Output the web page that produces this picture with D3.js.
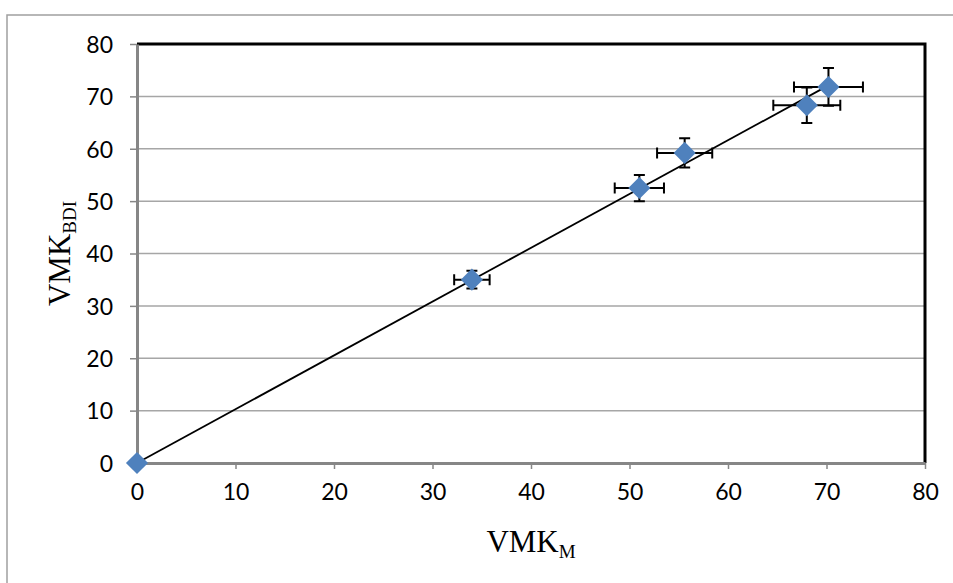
<!DOCTYPE html>
<html>
<head>
<meta charset="utf-8">
<script src="https://cdn.jsdelivr.net/npm/d3@7"></script>
<style>
  body { margin: 0; background: #fff; }
  svg { display: block; }
  .tick text { font-family: Lato, "Open Sans", sans-serif; font-size: 23px; fill: #000; }
</style>
</head>
<body>
<script>
/* Data */
const vmkM   = [0, 34.0, 51.0, 55.6, 68.0, 70.2];
const vmkBDI = [0, 35.0, 52.5, 59.2, 68.3, 71.8];
const errX   = [0, 1.8, 2.5, 2.8, 3.4, 3.5];
const errY   = [0, 1.7, 2.5, 2.8, 3.4, 3.6];
const xTicks = [0, 10, 20, 30, 40, 50, 60, 70, 80];
const yTicks = [0, 10, 20, 30, 40, 50, 60, 70, 80];

/* Constants */
const W = 953, H = 583;
const MARGIN = { top: 44, right: 28, bottom: 120, left: 137 };
const PW = W - MARGIN.left - MARGIN.right;
const PH = H - MARGIN.top - MARGIN.bottom;

const data = vmkM.map((d, i) => ({ x: d, y: vmkBDI[i], ex: errX[i], ey: errY[i] }));

const svg = d3.select("body").append("svg")
  .attr("width", W)
  .attr("height", H);

/* Outer frame */
svg.append("rect")
  .attr("x", 7).attr("y", 15)
  .attr("width", 970).attr("height", 620)
  .attr("fill", "none")
  .attr("stroke", "#a0a0a0")
  .attr("stroke-width", 1.5);

const g = svg.append("g")
  .attr("transform", "translate(" + MARGIN.left + "," + MARGIN.top + ")");

/* Scales */
const xScale = d3.scaleLinear().domain([0, 80]).range([0, PW]);
const yScale = d3.scaleLinear().domain([0, 80]).range([PH, 0]);

/* Gridlines */
g.selectAll(".grid")
  .data(yTicks.filter(d => d > 0 && d < 80))
  .enter()
  .append("line")
  .attr("class", "grid")
  .attr("x1", 0).attr("x2", PW)
  .attr("y1", d => yScale(d)).attr("y2", d => yScale(d))
  .attr("stroke", "#a6a6a6")
  .attr("stroke-width", 1.5);

/* Top and right border */
g.append("path")
  .attr("d", "M0," + yScale(80) + "H" + xScale(80) + "V" + yScale(0))
  .attr("fill", "none")
  .attr("stroke", "#000")
  .attr("stroke-width", 3);

/* Axes */
const xAxis = d3.axisBottom(xScale).tickValues(xTicks).tickSize(6).tickSizeOuter(0).tickPadding(10);
const yAxis = d3.axisLeft(yScale).tickValues(yTicks).tickSize(7).tickSizeOuter(0).tickPadding(17);

const gx = g.append("g")
  .attr("transform", "translate(0," + PH + ")")
  .call(xAxis);
const gy = g.append("g").call(yAxis);

[gx, gy].forEach(a => {
  a.select(".domain").attr("stroke", "#868686").attr("stroke-width", 3);
  a.selectAll(".tick line").attr("stroke", "#868686").attr("stroke-width", 1.5);
});
gx.selectAll(".tick text").attr("dy", "0.9em");
gy.selectAll(".tick text").attr("dy", "0.36em");

/* Trendline through origin */
const slope = d3.sum(data, d => d.x * d.y) / d3.sum(data, d => d.x * d.x);
const xMax = d3.max(vmkM);
g.append("line")
  .attr("x1", xScale(0)).attr("y1", yScale(0))
  .attr("x2", xScale(xMax)).attr("y2", yScale(slope * xMax))
  .attr("stroke", "#000")
  .attr("stroke-width", 1.8);

/* Error bars */
const CAP = 5.5;
const eb = g.selectAll(".err")
  .data(data.filter(d => d.ex > 0 || d.ey > 0))
  .enter()
  .append("g")
  .attr("class", "err")
  .attr("stroke", "#000")
  .attr("stroke-width", 2)
  .attr("fill", "none");

eb.append("path")
  .attr("d", d => {
    const x0 = xScale(d.x - d.ex), x1 = xScale(d.x + d.ex), cy = yScale(d.y);
    return "M" + x0 + "," + cy + "H" + x1 +
      "M" + x0 + "," + (cy - CAP) + "V" + (cy + CAP) +
      "M" + x1 + "," + (cy - CAP) + "V" + (cy + CAP);
  });
eb.append("path")
  .attr("d", d => {
    const y0 = yScale(d.y - d.ey), y1 = yScale(d.y + d.ey), cx = xScale(d.x);
    return "M" + cx + "," + y0 + "V" + y1 +
      "M" + (cx - CAP) + "," + y0 + "H" + (cx + CAP) +
      "M" + (cx - CAP) + "," + y1 + "H" + (cx + CAP);
  });

/* Points */
g.selectAll(".dot")
  .data(data)
  .enter()
  .append("path")
  .attr("class", "dot")
  .attr("d", d3.symbol().type(d3.symbolSquare).size(245))
  .attr("transform", d => "translate(" + xScale(d.x) + "," + yScale(d.y) + ") rotate(45)")
  .attr("fill", "#4f81bd");

/* Axis titles */
const xt = svg.append("text")
  .attr("x", MARGIN.left + PW / 2)
  .attr("y", 552)
  .attr("text-anchor", "middle")
  .style("font-family", "'Liberation Serif', 'Times New Roman', serif")
  .style("font-size", "31px");
xt.append("tspan").text("VMK");
xt.append("tspan").attr("dy", 6).style("font-size", "19px").text("M");

const yt = svg.append("text")
  .attr("transform", "translate(70," + (MARGIN.top + PH / 2) + ") rotate(-90)")
  .attr("text-anchor", "middle")
  .style("font-family", "'Liberation Serif', 'Times New Roman', serif")
  .style("font-size", "31px");
yt.append("tspan").text("VMK");
yt.append("tspan").attr("dy", 6).style("font-size", "19px").text("BDI");
</script>
</body>
</html>
